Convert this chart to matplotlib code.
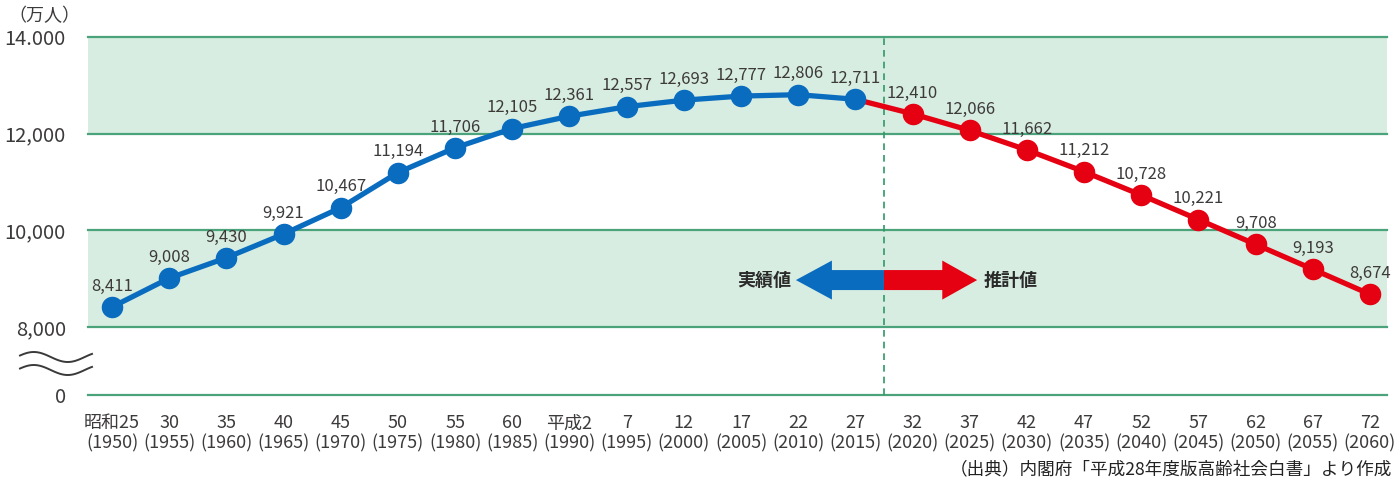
import numpy as np
import matplotlib
matplotlib.use("Agg")
import matplotlib.pyplot as plt
from matplotlib.patches import Polygon
from matplotlib.lines import Line2D

plt.rcParams['font.family'] = ['Noto Sans CJK JP', 'DejaVu Sans']

# Japanese era labels and western years for each census/projection point
era_labels = ['昭和25', '30', '35', '40', '45', '50', '55', '60', '平成2', '7', '12',
              '17', '22', '27', '32', '37', '42', '47', '52', '57', '62', '67', '72']
years = [1950, 1955, 1960, 1965, 1970, 1975, 1980, 1985, 1990, 1995, 2000, 2005,
         2010, 2015, 2020, 2025, 2030, 2035, 2040, 2045, 2050, 2055, 2060]
# total population (10,000 persons)
population = [8411, 9008, 9430, 9921, 10467, 11194, 11706, 12105, 12361, 12557, 12693,
              12777, 12806, 12711, 12410, 12066, 11662, 11212, 10728, 10221, 9708, 9193, 8674]
n_actual = 14  # points up to 2015 are actual values, later ones are projections

ytick_values = [8000, 10000, 12000, 14000]
ytick_labels = ['8,000', '10,000', '12,000', '14.000']

BREAK_ZERO = 6590  # position where the broken axis shows 0

BLUE = '#0a6cbf'
RED = '#e50012'
GREEN_LINE = '#4aa37a'
GREEN_FILL = '#d7ede1'
TEXT = '#3d3a3a'

W, H = 1397, 482
fig = plt.figure(figsize=(W / 100, H / 100), dpi=100)
ax = fig.add_axes([88 / W, 1 - 395 / H, (1387 - 88) / W, (395 - 37) / H])

x = np.arange(len(population))
step = 57.18
ax.set_xlim(-24 / step, len(population) - 1 + 17 / step)
ax.set_ylim(BREAK_ZERO, 14000)

# shaded bands and grid lines
ax.axhspan(12000, 14000, color=GREEN_FILL, zorder=0, lw=0)
ax.axhspan(8000, 10000, color=GREEN_FILL, zorder=0, lw=0)
for yv in [BREAK_ZERO] + ytick_values:
    ax.axhline(yv, color=GREEN_LINE, lw=1.6, zorder=1, clip_on=False)

# boundary between actual and projected values
boundary = n_actual - 0.5
ax.axvline(boundary, color='#2f9a66', lw=1.2, ls=(0, (4, 3)), zorder=1, clip_on=False)

# projected series (drawn first so the actual series sits on top)
ax.plot(x[n_actual - 1:], population[n_actual - 1:], color=RED, lw=3.8, zorder=3,
        solid_capstyle='round')
ax.plot(x[n_actual:], population[n_actual:], 'o', color=RED, ms=14.5, zorder=3)
# actual series
ax.plot(x[:n_actual], population[:n_actual], color=BLUE, lw=3.8, marker='o', ms=14.5,
        zorder=4, solid_capstyle='round', clip_on=False)

# value labels above every point
for xi, v in zip(x, population):
    ax.annotate(f'{v:,}', (xi, v), xytext=(0, 15), textcoords='offset points',
                ha='center', va='center', fontsize=12, color=TEXT, zorder=5)

# double arrow: actual (left, blue) / projected (right, red)
yc = 8969
body, head = 207, 404
left_tip, left_base = 11.96, 12.59
right_base, right_tip = 14.52, 15.13
ax.add_patch(Polygon([(left_tip, yc), (left_base, yc + head), (left_base, yc + body),
                      (boundary, yc + body), (boundary, yc - body),
                      (left_base, yc - body), (left_base, yc - head)],
                     closed=True, color=BLUE, lw=0, zorder=2))
ax.add_patch(Polygon([(right_tip, yc), (right_base, yc + head), (right_base, yc + body),
                      (boundary, yc + body), (boundary, yc - body),
                      (right_base, yc - body), (right_base, yc - head)],
                     closed=True, color=RED, lw=0, zorder=2))
ax.text(11.40, yc, '実績値', ha='center', va='center', fontsize=13,
        fontweight='bold', color='#2a2a2a')
ax.text(15.72, yc, '推計値', ha='center', va='center', fontsize=13,
        fontweight='bold', color='#2a2a2a')

# axes ticks
ax.set_yticks([BREAK_ZERO] + ytick_values)
ax.set_yticklabels(['0'] + ytick_labels)
ax.set_xticks(x)
ax.set_xticklabels([f'{e}\n({y})' for e, y in zip(era_labels, years)], linespacing=1.15)
ax.tick_params(axis='y', length=0, pad=16, labelsize=14.5, labelcolor=TEXT)
ax.tick_params(axis='x', length=0, pad=14, labelsize=13, labelcolor=TEXT)
for s in ax.spines.values():
    s.set_visible(False)

# axis break marks
xs = np.linspace(20, 92, 80)
for c in (357, 370):
    ys = c - 5 * np.sin(2 * np.pi * (xs - 20) / 68 + 0.3)
    fig.add_artist(Line2D(xs / W, 1 - ys / H, color='#3a3a3a', lw=1.4,
                          transform=fig.transFigure))

fig.text(8 / W, 1 - 16 / H, '（万人）', ha='left', va='center', fontsize=13, color=TEXT)
fig.text(950 / W, 1 - 469 / H, '（出典）内閣府「平成28年度版高齢社会白書」より作成',
         ha='left', va='center', fontsize=12.7, color='#222222')

fig.savefig('out.png', dpi=100)
